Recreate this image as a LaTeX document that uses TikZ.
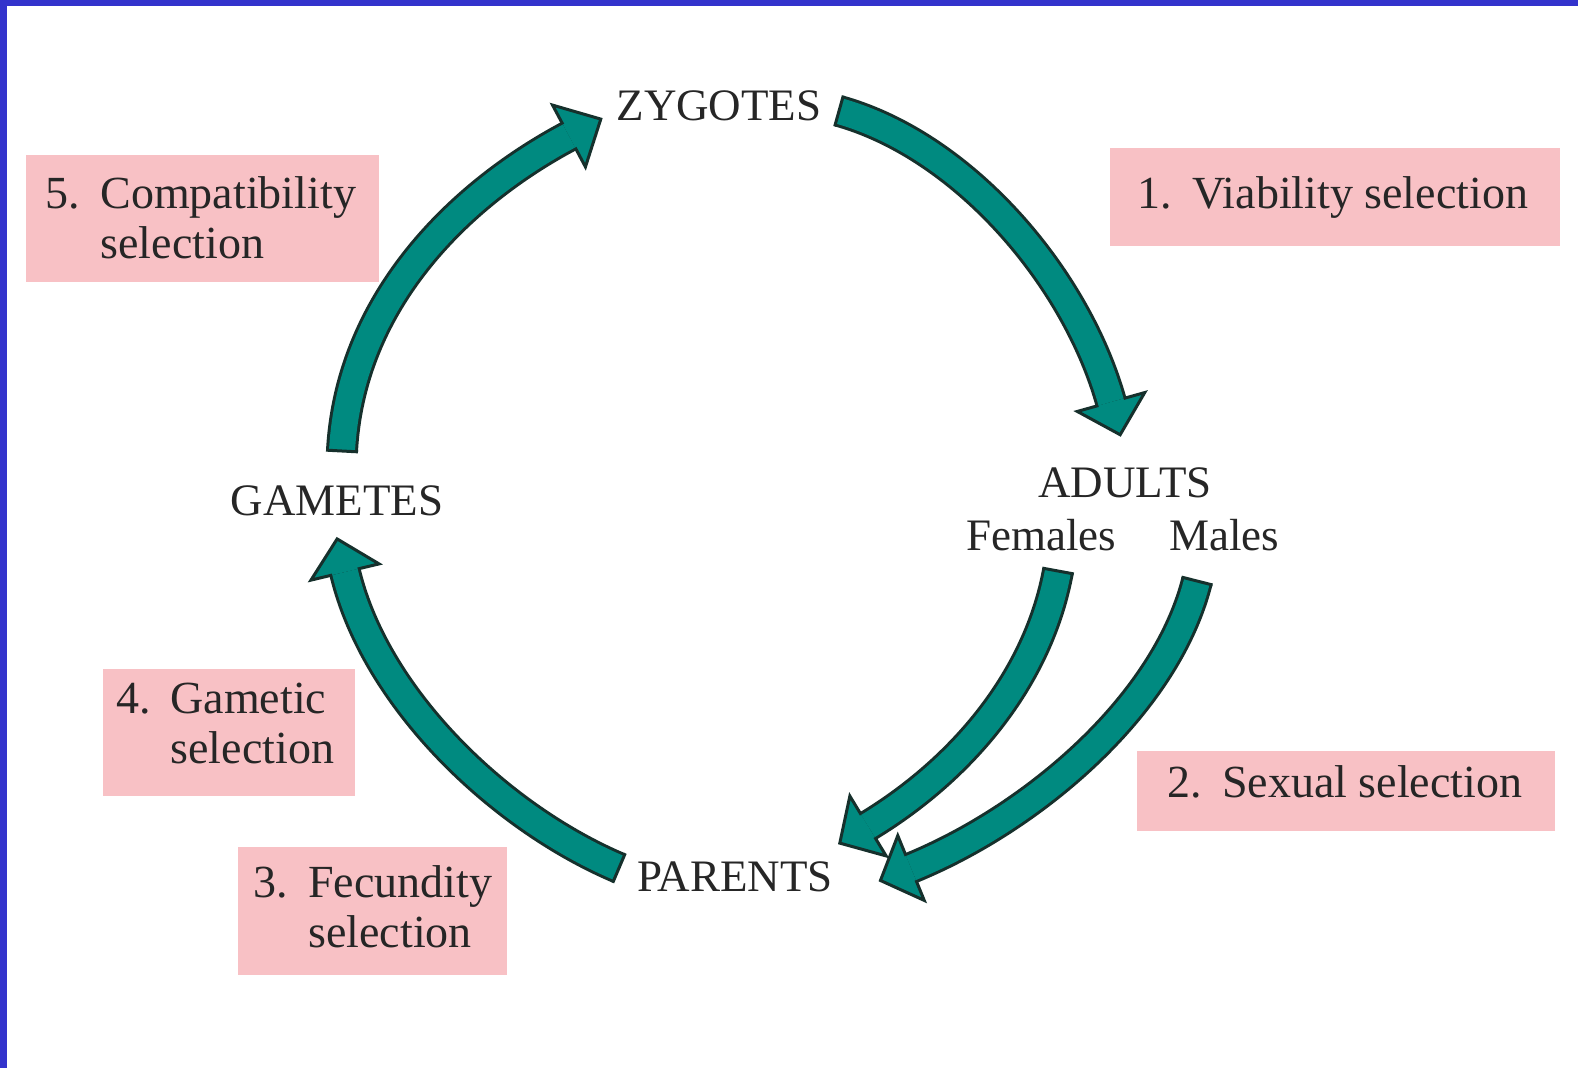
\documentclass[tikz,border=0pt]{standalone}
\usepackage{fontspec}
\setmainfont{Liberation Serif}
\usetikzlibrary{calc}
\definecolor{tl}{RGB}{0,138,128}
\definecolor{dk}{RGB}{22,48,44}
\definecolor{pk}{RGB}{248,193,197}
\definecolor{bd}{RGB}{51,51,204}
\tikzset{
  lbl/.style={font=\fontsize{45}{50}\selectfont, inner sep=0pt, text=black!85},
  boxtext/.style={font=\fontsize{46}{50}\selectfont, inner sep=0pt, text=black!85},
  selbox/.style={fill=pk, draw=none, inner sep=0pt},
}
% #1 = coordinate prefix, #2 = head length
\newcommand\cyclearrow[2]{%
  \draw[line width=32pt, dk] (#1T) .. controls (#1a) and (#1b) .. (#1E);
  \filldraw[fill=tl, draw=dk, line width=3pt, line join=miter]
    ($(#1E)!35pt!90:(#1b)$) -- ($(#1E)!-#2pt!(#1b)$) -- ($(#1E)!35pt!-90:(#1b)$) -- cycle;
  \draw[line width=26pt, tl] (#1T) .. controls (#1a) and (#1b) .. (#1E);
  \draw[line width=26pt, tl] (#1E) -- ($(#1E)!-3pt!(#1b)$);
  \draw[line width=3pt, dk] ($(#1T)!16pt!90:(#1a)$) -- ($(#1T)!16pt!-90:(#1a)$);
}
\begin{document}
\begin{tikzpicture}[x=1pt, y=-1pt]
\useasboundingbox (0,0) rectangle (1578,1068);
\fill[white] (0,0) rectangle (1578,1068);
\fill[bd] (0,0) rectangle (1578,6);
\fill[bd] (0,0) rectangle (7,1068);

% stage labels
\node[lbl, anchor=base] (zyg) at (719,120) {ZYGOTES};
\node[lbl, anchor=base] (gam) at (337,515) {GAMETES};
\node[lbl, anchor=base] (adu) at (1125,497) {ADULTS};
\node[lbl, anchor=base] (fem) at (1041,550) {Females};
\node[lbl, anchor=base] (mal) at (1224,550) {Males};
\node[lbl, anchor=base] (par) at (735,891) {PARENTS};

% selection boxes
\node[selbox, minimum width=353pt, minimum height=127pt] (b5) at (202.5,218.5) {};
\node[boxtext, anchor=base] (t5) at (201,208)
  {\begin{tabular}[t]{@{}r@{\hspace{20pt}}l@{}}5. & Compatibility\\ & selection\end{tabular}};
\node[selbox, minimum width=450pt, minimum height=98pt] (b1) at (1335,197) {};
\node[boxtext, anchor=base] (t1) at (1333,208)
  {\begin{tabular}[t]{@{}r@{\hspace{20pt}}l@{}}1. & Viability selection\end{tabular}};
\node[selbox, minimum width=252pt, minimum height=127pt] (b4) at (229,732.5) {};
\node[boxtext, anchor=base] (t4) at (225,713)
  {\begin{tabular}[t]{@{}r@{\hspace{20pt}}l@{}}4. & Gametic\\ & selection\end{tabular}};
\node[selbox, minimum width=418pt, minimum height=80pt] (b2) at (1346,791) {};
\node[boxtext, anchor=base] (t2) at (1345,797)
  {\begin{tabular}[t]{@{}r@{\hspace{20pt}}l@{}}2. & Sexual selection\end{tabular}};
\node[selbox, minimum width=269pt, minimum height=128pt] (b3) at (372.5,911) {};
\node[boxtext, anchor=base] (t3) at (373,897)
  {\begin{tabular}[t]{@{}r@{\hspace{20pt}}l@{}}3. & Fecundity\\ & selection\end{tabular}};

% arrow geometry
\coordinate (vT) at (839,111);  \coordinate (va) at (964,146);
\coordinate (vb) at (1076,277); \coordinate (vE) at (1111,402);
\coordinate (fT) at (1058,571); \coordinate (fa) at (1038,679);
\coordinate (fb) at (962,769);  \coordinate (fE) at (868,826);
\coordinate (mT) at (1197,581); \coordinate (ma) at (1165,707);
\coordinate (mb) at (1031,819); \coordinate (mE) at (911,868);
\coordinate (pT) at (619,868);  \coordinate (pa) at (499,817);
\coordinate (pb) at (375,698);  \coordinate (pE) at (345,572);
\coordinate (gT) at (342,451);  \coordinate (ga) at (350,301);
\coordinate (gb) at (460,194);  \coordinate (gE) at (569,136);

\cyclearrow{v}{34}
\cyclearrow{f}{33}
\cyclearrow{m}{33}
\cyclearrow{p}{34}
\cyclearrow{g}{36}
\end{tikzpicture}
\end{document}
